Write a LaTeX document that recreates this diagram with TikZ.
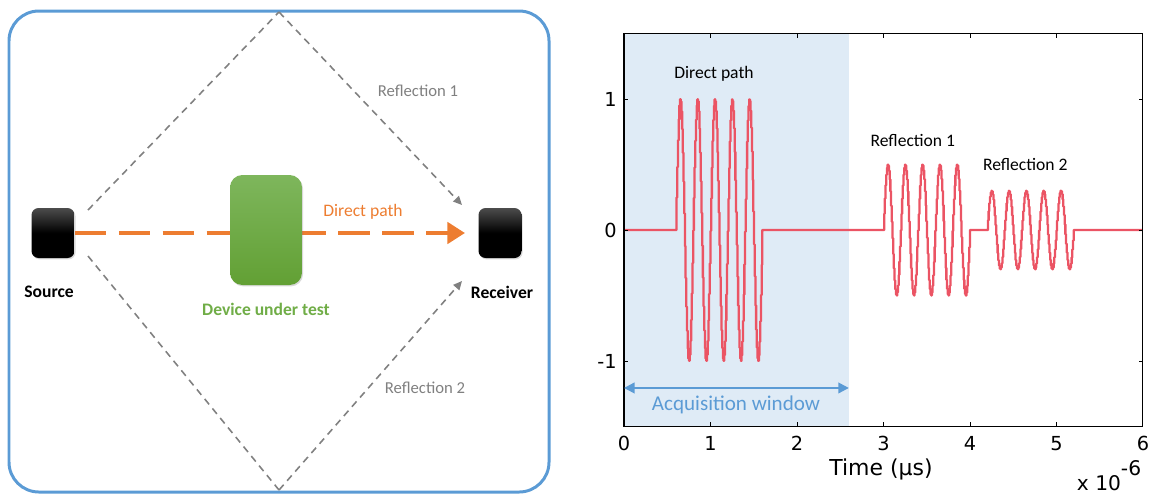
\documentclass[tikz,border=0pt]{standalone}
\usepackage{fontspec}
\setmainfont{Carlito}
\newfontfamily\axisfont{DejaVu Sans}
\usetikzlibrary{arrows.meta,shadows}

\definecolor{frameblue}{RGB}{91,155,213}
\definecolor{pathorange}{RGB}{237,125,49}
\definecolor{reflgray}{RGB}{128,128,128}
\definecolor{duttop}{RGB}{126,182,92}
\definecolor{dutbot}{RGB}{98,160,52}
\definecolor{dutgreen}{RGB}{112,173,71}
\definecolor{sigred}{RGB}{235,84,100}
\definecolor{winshade}{RGB}{223,235,246}

\tikzset{
  lbl/.style={font=\fontsize{9.5}{11}\selectfont, inner sep=0pt},
  axlbl/.style={font=\axisfont\fontsize{11}{13}\selectfont, inner sep=0pt},
  device/.style={rounded corners=4pt, minimum width=0.86cm, minimum height=1cm,
    top color=black!70, bottom color=black, middle color=black,
    drop shadow={shadow xshift=0.6pt, shadow yshift=-0.8pt, opacity=0.3}},
  refl/.style={reflgray, line width=0.9pt, dash pattern=on 4pt off 3pt},
  sig/.style={sigred, line width=1.3pt, line join=round}
}

\begin{document}
\begin{tikzpicture}[x=0.02cm, y=-0.02cm]
\useasboundingbox (0,0) rectangle (1151,495);

% left panel
\draw[frameblue, line width=1.7pt, rounded corners=17pt] (9,11) rectangle (549,492);
\node[device] (src) at (53,233) {};
\node[device] (rcv) at (500,233) {};
\node[lbl, font=\fontsize{10}{12}\selectfont\bfseries] (srclbl) at (49,292) {Source};
\node[lbl, font=\fontsize{10}{12}\selectfont\bfseries] (rcvlbl) at (502,292) {Receiver};

\coordinate (top) at (279,12);
\coordinate (bot) at (279,490);
\coordinate (s1) at (88,210);
\coordinate (s2) at (88,256);
\coordinate (r1) at (462,205);
\coordinate (r2) at (462,281);
\coordinate (rtip) at (465,233);
\draw[refl] (s1) -- (top);
\draw[refl, -{Triangle[length=5pt,width=4.5pt]}] (top) -- (r1);
\draw[refl] (s2) -- (bot);
\draw[refl, -{Triangle[length=5pt,width=4.5pt]}] (bot) -- (r2);
\draw[pathorange, line width=2.4pt, dash pattern=on 18pt off 7pt,
  -{Triangle[length=10pt,width=12pt]}] (src.east) -- (rtip);

\node[rounded corners=7pt, minimum width=1.44cm, minimum height=2.2cm,
  top color=duttop, bottom color=dutbot,
  drop shadow={shadow xshift=0.6pt, shadow yshift=-0.8pt, opacity=0.3}] (dut) at (266,230) {};
\node[lbl, font=\fontsize{10}{12}\selectfont\bfseries, text=dutgreen] (dutlbl) at (266,309) {Device under test};
\node[lbl, text=pathorange, font=\fontsize{10}{12}\selectfont] (dirlbl) at (363,212) {Direct path};
\node[lbl, text=reflgray] (refl1) at (418,91) {Reflection 1};
\node[lbl, text=reflgray] (refl2) at (425,388) {Reflection 2};

% right panel: signal plot
\begin{scope}[shift={(624,230)}, x=1.73cm, y=2.62cm]
\fill[winshade] (0,-1.5) rectangle (2.6,1.5);
\draw[sig] (0,0) -- (0.6,0)
  -- plot[const plot, domain=0.6:1.6, samples=126] (\x,{sin(1800*(\x-0.6))})
  -- (1.6,0) -- (3,0)
  -- plot[const plot, domain=3:4, samples=126] (\x,{0.5*sin(1800*(\x-3))})
  -- (4,0) -- (4.2,0)
  -- plot[const plot, domain=4.2:5.2, samples=126] (\x,{0.3*sin(1800*(\x-4.2))})
  -- (5.2,0) -- (6,0);
\draw[line width=0.6pt] (0,-1.5) rectangle (6,1.5);
\foreach \t in {0,...,6} {
  \draw[line width=0.5pt] (\t,-1.5) -- ++(0,0.08cm);
  \draw[line width=0.5pt] (\t,1.5) -- ++(0,-0.08cm);
  \node[axlbl, anchor=north] (xt\t) at (\t,-1.575) {\t};
}
\foreach \v in {-1,0,1} {
  \draw[line width=0.5pt] (0,\v) -- ++(0.08cm,0);
  \draw[line width=0.5pt] (6,\v) -- ++(-0.08cm,0);
  \node[axlbl, anchor=east] (yt\v) at (-0.08,\v) {\v};
}
\coordinate (aw0) at (0,-1.206);
\coordinate (aw1) at (2.6,-1.206);
\draw[frameblue, line width=1.2pt, {Triangle[length=6pt,width=6pt]}-{Triangle[length=6pt,width=6pt]}] (aw0) -- (aw1);
\node[lbl, text=frameblue, font=\fontsize{12}{14}\selectfont] (awlbl) at (1.295,-1.336) {Acquisition window};
\node[lbl, font=\fontsize{10}{12}\selectfont] (p1) at (1.04,1.19) {Direct path};
\node[lbl, font=\fontsize{10}{12}\selectfont] (p2) at (3.34,0.68) {Reflection 1};
\node[lbl, font=\fontsize{10}{12}\selectfont] (p3) at (4.64,0.50) {Reflection 2};
\end{scope}
\node[axlbl, font=\axisfont\fontsize{12.5}{14}\selectfont] (tlab) at (881,469) {Time (µs)};
\node[axlbl, anchor=base, font=\axisfont\fontsize{11.5}{13}\selectfont] (scl) at (1109,490) {x 10\raisebox{1.3ex}{-6}};
\end{tikzpicture}
\end{document}
